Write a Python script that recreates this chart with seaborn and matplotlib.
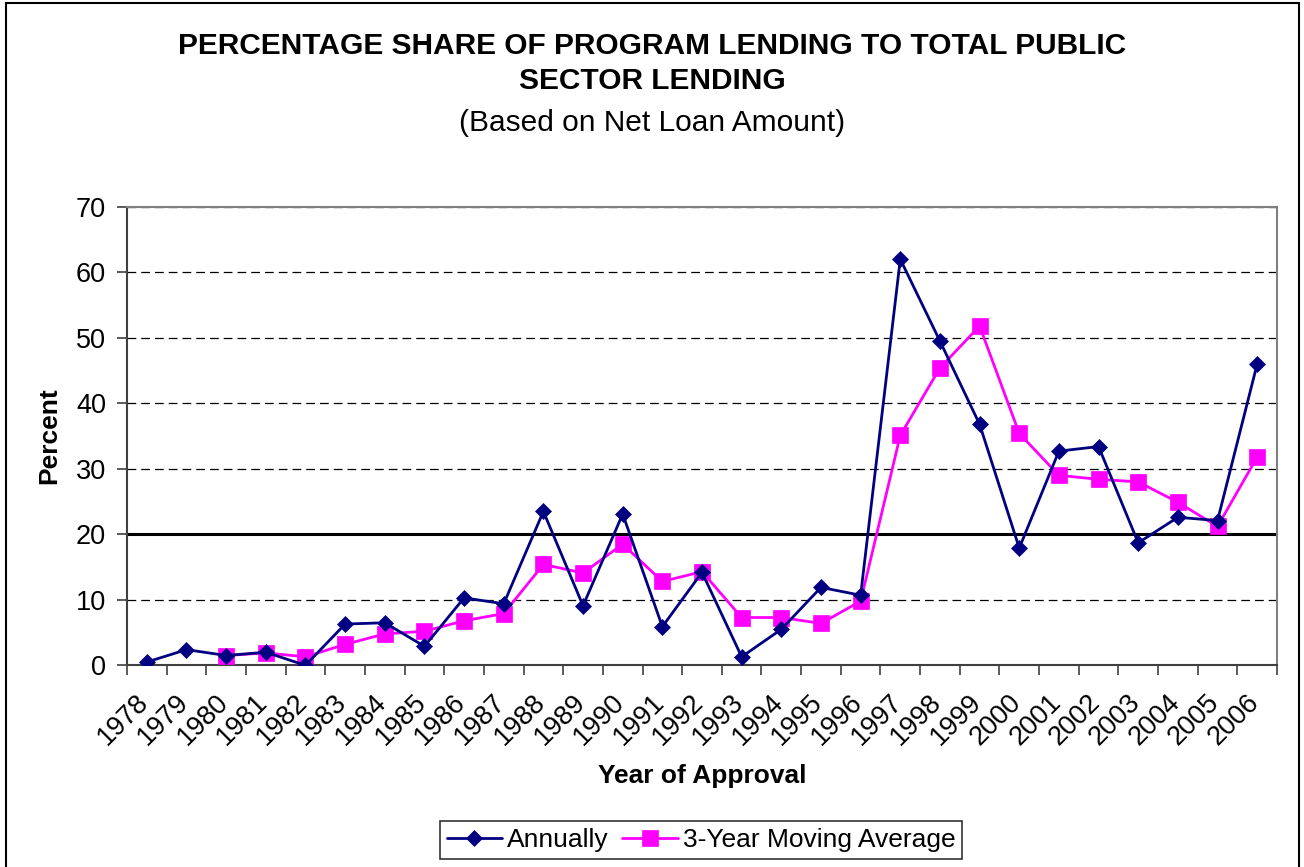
import numpy as np
import pandas as pd
import matplotlib
matplotlib.use("Agg")
import matplotlib.pyplot as plt
import matplotlib.transforms as mtransforms
from matplotlib.patches import Rectangle
import seaborn as sns

# values
years = list(range(1978, 2007))
annually = [0.5, 2.4, 1.5, 2.0, 0.0, 6.3, 6.5, 2.9, 10.3, 9.4,
            23.5, 9.1, 23.1, 5.9, 14.2, 1.3, 5.5, 11.9, 10.7, 62.0,
            49.5, 36.8, 17.9, 32.7, 33.4, 18.7, 22.6, 22.1, 46.0]
moving_avg = [np.nan, np.nan, 1.5, 1.9, 1.3, 3.2, 4.8, 5.2, 6.8, 7.9,
              15.4, 14.1, 18.5, 12.8, 14.3, 7.3, 7.3, 6.4, 9.8, 35.1,
              45.4, 51.8, 35.4, 29.0, 28.4, 28.0, 24.9, 21.2, 31.8]
threshold = 20
y_ticks = [0, 10, 20, 30, 40, 50, 60, 70]

df = pd.DataFrame({"year": years, "Annually": annually,
                   "3-Year Moving Average": moving_avg})

sns.set_style("white")
plt.rcParams["font.family"] = ["Liberation Sans", "DejaVu Sans"]
plt.rcParams["text.color"] = "black"
plt.rcParams["axes.labelcolor"] = "black"
plt.rcParams["xtick.color"] = "black"
plt.rcParams["ytick.color"] = "black"

fig = plt.figure(figsize=(13.04, 8.67), dpi=100)
ax = fig.add_axes([0.0974, 0.2326, 0.8819, 0.5289])

ax.axhline(threshold, color="black", linewidth=2.2, zorder=2)

sns.lineplot(data=df, x="year", y="Annually", ax=ax, color="#000080",
             linewidth=2.0, marker="D", markersize=8.5, markeredgecolor="#000080",
             markeredgewidth=0.5, label="Annually", zorder=4)
sns.lineplot(data=df, x="year", y="3-Year Moving Average", ax=ax, color="#FF00FF",
             linewidth=2.0, marker="s", markersize=11, markeredgecolor="#FF00FF",
             markeredgewidth=0.5, label="3-Year Moving Average", zorder=3)

handles, labels = ax.get_legend_handles_labels()
if ax.get_legend() is not None:
    ax.get_legend().remove()

ax.set_xlim(years[0] - 0.5, years[-1] + 0.5)
ax.set_ylim(0, 70)
ax.set_yticks(y_ticks)
ax.set_xticks(years)
ax.set_xticklabels([str(y) for y in years], rotation=45, ha="right",
                   va="center", rotation_mode="anchor", fontsize=19.5)
ax.set_xticks(np.arange(years[0] - 0.5, years[-1] + 1), minor=True)
ax.tick_params(axis="x", which="major", length=0, pad=24)
ax.tick_params(axis="x", which="minor", length=7, width=1.2, color="#404040",
               direction="out", bottom=True)
ax.tick_params(axis="y", length=7, width=1.2, color="#404040", direction="out",
               left=True, pad=8, labelsize=19.5)
offset = mtransforms.ScaledTranslation(-0.02, 0, fig.dpi_scale_trans)
for lbl in ax.get_xticklabels():
    lbl.set_transform(lbl.get_transform() + offset)

ax.yaxis.grid(True, color="black", linestyle=(0, (7, 4)), linewidth=0.9)
ax.xaxis.grid(False)
ax.set_axisbelow(True)

for side in ["top", "right"]:
    ax.spines[side].set_color("#808080")
    ax.spines[side].set_linewidth(1.5)
for side in ["left", "bottom"]:
    ax.spines[side].set_color("#404040")
    ax.spines[side].set_linewidth(1.5)

ax.set_ylabel("Percent", fontsize=19, fontweight="bold")
ax.yaxis.set_label_coords(-0.0574, 0.5)
ax.set_xlabel("Year of Approval", fontsize=19, fontweight="bold")
ax.xaxis.set_label_coords(0.5, -0.215)

fig.text(0.5, 1 - 54 / 867, "PERCENTAGE SHARE OF PROGRAM LENDING TO TOTAL PUBLIC",
         ha="center", va="baseline", fontsize=21.5, fontweight="bold")
fig.text(0.5, 1 - 89 / 867, "SECTOR LENDING",
         ha="center", va="baseline", fontsize=21.5, fontweight="bold")
fig.text(0.5, 1 - 131 / 867, "(Based on Net Loan Amount)",
         ha="center", va="baseline", fontsize=21.5)

leg = fig.legend(handles, labels, loc="center", ncol=2,
                 bbox_to_anchor=(701 / 1304, 1 - 840 / 867), fontsize=19,
                 frameon=True, fancybox=False, edgecolor="black",
                 handlelength=2.1, handletextpad=0.2, columnspacing=0.5,
                 borderpad=0.25, borderaxespad=0)
leg.get_frame().set_linewidth(1.2)

fig.patches.append(Rectangle((6 / 1304, -0.01), 1293 / 1304, 0.01 + 1 - 3 / 867,
                             transform=fig.transFigure, fill=False,
                             edgecolor="black", linewidth=1.5))

fig.savefig("out.png", dpi=100)
